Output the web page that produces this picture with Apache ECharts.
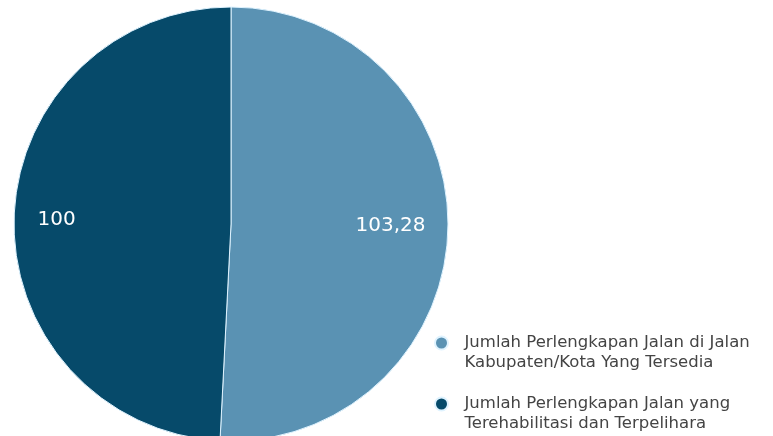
<!DOCTYPE html>
<html>
<head>
<meta charset="utf-8">
<script src="https://cdn.jsdelivr.net/npm/echarts@6/dist/echarts.min.js"></script>
<style>html,body{margin:0;padding:0;background:#fff;}#c{width:773px;height:436px;}</style>
</head>
<body>
<div id="c"></div>
<script>
var categories = [
  "Jumlah Perlengkapan Jalan di Jalan Kabupaten/Kota Yang Tersedia",
  "Jumlah Perlengkapan Jalan yang Terehabilitasi dan Terpelihara"
];
var legendLines = [
  ["Jumlah Perlengkapan Jalan di Jalan", "Kabupaten/Kota Yang Tersedia"],
  ["Jumlah Perlengkapan Jalan yang", "Terehabilitasi dan Terpelihara"]
];
var values = [103.28, 100];
var colors = ["#5a92b3", "#064a6a"];
var legendTops = [313, 374];

function makeLegend(i) {
  return {
    orient: 'vertical',
    left: 434,
    top: legendTops[i],
    padding: 0,
    itemWidth: 36,
    itemHeight: 13,
    icon: 'circle',
    textStyle: {
      fontFamily: 'DejaVu Sans, sans-serif',
      fontSize: 16.5,
      color: '#444',
      lineHeight: 20
    },
    formatter: function (name) {
      var k = categories.indexOf(name);
      return ' \n' + legendLines[k].join('\n');
    },
    data: [categories[i]]
  };
}

var chart = echarts.init(document.getElementById('c'));
chart.setOption({
  animation: false,
  legend: [makeLegend(0), makeLegend(1)],
  series: [{
    type: 'pie',
    center: [231, 224],
    radius: [0, 217],
    startAngle: 90,
    clockwise: true,
    avoidLabelOverlap: false,
    itemStyle: { borderColor: '#dff3ff', borderWidth: 1 },
    label: {
      show: true,
      position: 'inside',
      color: '#fff',
      fontFamily: 'DejaVu Sans, sans-serif',
      fontSize: 20,
      formatter: function (p) { return String(p.value).replace('.', ','); }
    },
    labelLayout: function (p) {
      return p.dataIndex === 0 ? { dx: 48, dy: -1 } : { dx: -63, dy: -1 };
    },
    labelLine: { show: false },
    emphasis: { disabled: true },
    data: categories.map(function (c, i) {
      return { name: c, value: values[i], itemStyle: { color: colors[i] } };
    })
  }]
});
</script>
</body>
</html>
